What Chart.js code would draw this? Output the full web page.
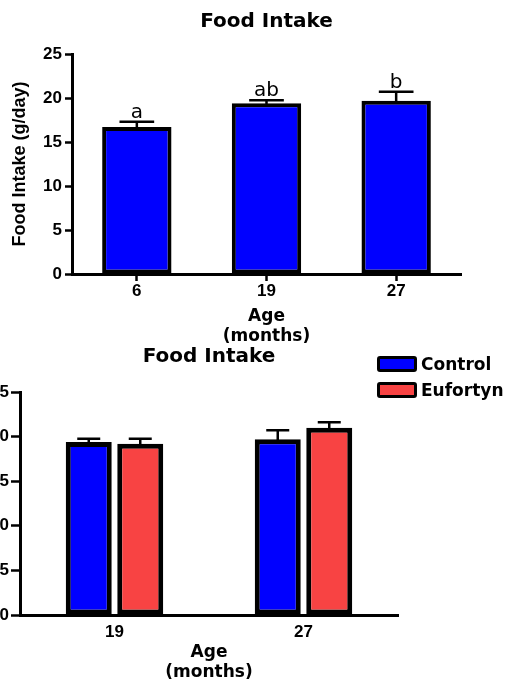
<!DOCTYPE html>
<html>
<head>
<meta charset="utf-8">
<title>Food Intake</title>
<script src="https://cdn.jsdelivr.net/npm/chart.js@4.4.1/dist/chart.umd.min.js"></script>
<style>
  html, body { margin: 0; padding: 0; background: #fff; width: 505px; height: 681px; overflow: hidden; position: relative; }
  #topChart { position: absolute; left: 0; top: 0; }
  #bottomChart { position: absolute; left: -70px; top: 345px; }
  #legend { position: absolute; left: 377px; top: 356px; font-family: "DejaVu Sans", sans-serif; font-weight: bold; font-size: 17px; color: #000; }
  .legend-row { display: flex; align-items: center; height: 16px; margin-bottom: 10px; white-space: nowrap; }
  .legend-box { width: 40px; height: 16px; box-sizing: border-box; border: 3.5px solid #000; border-radius: 3px; margin-right: 4px; flex: none; }
</style>
</head>
<body>
<canvas id="topChart" width="505" height="350"></canvas>
<canvas id="bottomChart" width="575" height="340"></canvas>
<div id="legend"></div>
<script>
// Food intake by age (g/day), mean with SEM, plus significance letters
const ageGroups = ['6', '19', '27'];
const intakeByAge = [16.7, 19.4, 19.7];
const semByAge = [0.6, 0.35, 1.0];
const sigLetters = ['a', 'ab', 'b'];

// Food intake by treatment at 19 and 27 months
const treatmentAges = ['19', '27'];
const controlIntake = [19.4, 19.7];
const controlSem = [0.35, 1.0];
const eufortynIntake = [19.2, 21.0];
const eufortynSem = [0.55, 0.6];

// Shared y axis range
const yMin = 0;
const yMax = 25;
const yStep = 5;

const BLUE = '#0000FF';
const RED = '#F84343';
const BOLD = 'DejaVu Sans';

Chart.defaults.font.family = BOLD;
Chart.defaults.color = '#000';

// Upward SEM whiskers with a cap half as wide as the bar, and optional letters above
const errorBars = {
  id: 'errorBars',
  afterDatasetsDraw(chart) {
    const ctx = chart.ctx;
    const y = chart.scales.y;
    chart.data.datasets.forEach((ds, di) => {
      if (!ds.sem) return;
      const meta = chart.getDatasetMeta(di);
      meta.data.forEach((bar, i) => {
        const top = y.getPixelForValue(ds.data[i] + ds.sem[i]);
        const half = bar.width / 4;
        ctx.save();
        ctx.strokeStyle = '#000';
        ctx.lineWidth = 2.5;
        ctx.beginPath();
        ctx.moveTo(bar.x, bar.y + 2);
        ctx.lineTo(bar.x, top);
        ctx.moveTo(bar.x - half, top);
        ctx.lineTo(bar.x + half, top);
        ctx.stroke();
        if (ds.marks) {
          ctx.fillStyle = '#000';
          ctx.font = '20px "DejaVu Sans"';
          ctx.textAlign = 'center';
          ctx.textBaseline = 'alphabetic';
          ctx.fillText(ds.marks[i], bar.x, top - 4);
        }
        ctx.restore();
      });
    });
  }
};

const tickFont = { family: 'Liberation Sans', weight: 'bold', size: 17 };
const axisTitleFont = { family: BOLD, weight: 'bold', size: 17, lineHeight: 1.2 };

const topChart = new Chart(document.getElementById('topChart'), {
  type: 'bar',
  data: {
    labels: ageGroups,
    datasets: [{
      label: 'Food Intake',
      data: intakeByAge,
      sem: semByAge,
      marks: sigLetters,
      backgroundColor: BLUE,
      borderColor: '#000',
      borderWidth: 4,
      borderSkipped: false,
      categoryPercentage: 1,
      barPercentage: 0.535
    }]
  },
  options: {
    responsive: false,
    animation: false,
    events: [],
    layout: { padding: { left: 0, right: 44, top: 0, bottom: 0 } },
    plugins: {
      legend: { display: false },
      tooltip: { enabled: false },
      title: {
        display: true,
        fullSize: false,
        text: 'Food Intake',
        color: '#000',
        font: { family: BOLD, weight: 'bold', size: 20, lineHeight: 1.2 },
        padding: { top: 9.5, bottom: 20.5 }
      }
    },
    scales: {
      x: {
        grid: { display: true, offset: false, drawOnChartArea: false, drawTicks: true, tickLength: 7, tickWidth: 2.5, tickColor: '#000' },
        border: { display: true, color: '#000', width: 3 },
        ticks: { font: tickFont, color: '#000', padding: 0 },
        title: { display: true, text: ['Age', '(months)'], font: axisTitleFont, color: '#000', padding: { top: 0, bottom: 2.8 } },
        afterFit(scale) { scale.height = 76; }
      },
      y: {
        min: yMin,
        max: yMax,
        grid: { display: true, drawOnChartArea: false, drawTicks: true, tickLength: 7, tickWidth: 2.5, tickColor: '#000' },
        border: { display: true, color: '#000', width: 3 },
        ticks: { stepSize: yStep, font: tickFont, color: '#000', padding: 3 },
        title: { display: true, text: 'Food Intake (g/day)', font: { family: 'Liberation Sans', weight: 'bold', size: 18, lineHeight: 1.2 }, color: '#000', padding: { top: 9.2, bottom: 0 } },
        afterFit(scale) { scale.width = 72; }
      }
    }
  },
  plugins: [errorBars]
});

const bottomChart = new Chart(document.getElementById('bottomChart'), {
  type: 'bar',
  data: {
    labels: treatmentAges,
    datasets: [{
      label: 'Control',
      data: controlIntake,
      sem: controlSem,
      backgroundColor: BLUE,
      borderColor: '#000',
      borderWidth: 5,
      borderSkipped: false,
      categoryPercentage: 0.545,
      barPercentage: 0.893
    }, {
      label: 'Eufortyn',
      data: eufortynIntake,
      sem: eufortynSem,
      backgroundColor: RED,
      borderColor: '#000',
      borderWidth: 5,
      borderSkipped: false,
      categoryPercentage: 0.545,
      barPercentage: 0.893
    }]
  },
  options: {
    responsive: false,
    animation: false,
    events: [],
    layout: { padding: { left: 0, right: 107, top: 0, bottom: 0 } },
    plugins: {
      legend: { display: false },
      tooltip: { enabled: false },
      title: {
        display: true,
        fullSize: false,
        text: 'Food Intake',
        color: '#000',
        font: { family: BOLD, weight: 'bold', size: 20, lineHeight: 1.2 },
        padding: { top: 0, bottom: 23 }
      }
    },
    scales: {
      x: {
        grid: { display: false, drawTicks: false },
        border: { display: true, color: '#000', width: 3 },
        ticks: { font: tickFont, color: '#000', padding: 7 },
        title: { display: true, text: ['Age', '(months)'], font: axisTitleFont, color: '#000', padding: { top: 0, bottom: 1.8 } },
        afterFit(scale) { scale.height = 70; }
      },
      y: {
        min: yMin,
        max: yMax,
        grid: { display: true, drawOnChartArea: false, drawTicks: true, tickLength: 9, tickWidth: 2.5, tickColor: '#000' },
        border: { display: true, color: '#000', width: 3 },
        ticks: { stepSize: yStep, font: tickFont, color: '#000', padding: 2 },
        afterFit(scale) { scale.width = 90; }
      }
    }
  },
  plugins: [errorBars]
});

// Legend built from the treatment chart's datasets
const legendEl = document.getElementById('legend');
bottomChart.data.datasets.forEach(ds => {
  const row = document.createElement('div');
  row.className = 'legend-row';
  const box = document.createElement('span');
  box.className = 'legend-box';
  box.style.background = ds.backgroundColor;
  const label = document.createElement('span');
  label.textContent = ds.label;
  row.appendChild(box);
  row.appendChild(label);
  legendEl.appendChild(row);
});
</script>
</body>
</html>
